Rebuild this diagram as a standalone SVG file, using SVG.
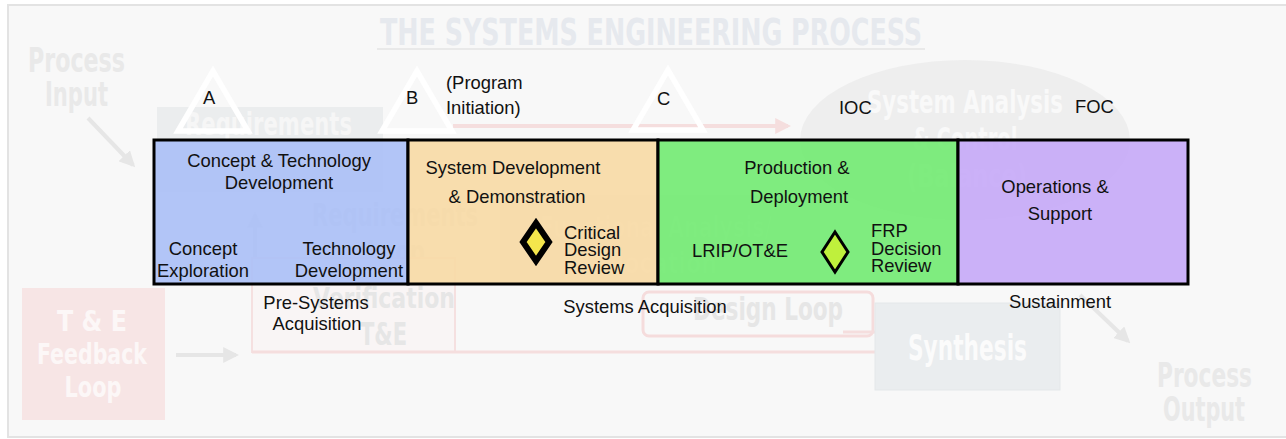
<svg xmlns="http://www.w3.org/2000/svg" width="1286" height="439" viewBox="0 0 1286 439">
<defs>
<style>
.t{font-family:"Liberation Sans",Arial,sans-serif;font-size:18.4px;fill:#111}
.c{text-anchor:middle}
.bg{font-family:"DejaVu Sans Condensed","Liberation Sans Narrow","DejaVu Sans",sans-serif;font-weight:bold;font-stretch:condensed}
.phase{stroke:#000;stroke-width:3}
.tri{fill:none;stroke:#fff;stroke-width:5.5;stroke-linejoin:miter}
</style>
<marker id="ga" viewBox="0 0 10 10" refX="8" refY="5" markerWidth="4" markerHeight="4" orient="auto"><path d="M0,0 L10,5 L0,10 z" fill="#e6e6e6"/></marker>
<marker id="ra" viewBox="0 0 10 10" refX="8" refY="5" markerWidth="4" markerHeight="4" orient="auto"><path d="M0,0 L10,5 L0,10 z" fill="#f5dede"/></marker>
</defs>

<!-- faded background picture -->
<g id="background">
<rect x="0" y="0" width="1286" height="439" fill="#ffffff"/>
<rect x="8" y="5" width="1290" height="432" fill="#f8f8f8" stroke="#e3e3e3" stroke-width="2"/>
<text class="bg c" x="651" y="45" font-size="37" fill="#e6e9ee" textLength="542" lengthAdjust="spacingAndGlyphs">THE SYSTEMS ENGINEERING PROCESS</text>
<line x1="377" y1="49" x2="925" y2="49" stroke="#e9e9e9" stroke-width="2"/>
<text class="bg" x="28" y="72" font-size="33" fill="#e9e9e9" textLength="97" lengthAdjust="spacingAndGlyphs">Process</text>
<text class="bg" x="45" y="106" font-size="33" fill="#e9e9e9" textLength="63" lengthAdjust="spacingAndGlyphs">Input</text>
<line x1="88" y1="118" x2="133" y2="165" stroke="#e6e6e6" stroke-width="4" marker-end="url(#ga)"/>
<rect x="157" y="107" width="226" height="85" fill="#ebedee"/>
<text class="bg" x="185" y="135" font-size="32" fill="#f6f6f6" textLength="167" lengthAdjust="spacingAndGlyphs">Requirements</text>
<ellipse cx="965" cy="140" rx="165" ry="80" fill="#eeeeee"/>
<text class="bg c" x="965" y="113" font-size="32" fill="#f9f9f9" textLength="196" lengthAdjust="spacingAndGlyphs">System Analysis</text>
<text class="bg c" x="965" y="150" font-size="32" fill="#f9f9f9" textLength="105" lengthAdjust="spacingAndGlyphs">&amp; Control</text>
<text class="bg c" x="967" y="187" font-size="32" fill="#f9f9f9" textLength="120" lengthAdjust="spacingAndGlyphs">(Balance)</text>
<line x1="453" y1="126" x2="788" y2="126" stroke="#f5dede" stroke-width="4" marker-end="url(#ra)"/>
<rect x="500" y="195" width="320" height="90" fill="#efebe8"/>
<text class="bg" x="540" y="237" font-size="28" fill="#f4f4f4" textLength="232" lengthAdjust="spacingAndGlyphs">Functional Analysis/</text>
<text class="bg" x="592" y="273" font-size="28" fill="#f4f4f4" textLength="125" lengthAdjust="spacingAndGlyphs">Allocation</text>
<text class="bg" x="312" y="226" font-size="32" fill="#e2e2e2" textLength="166" lengthAdjust="spacingAndGlyphs">Requirements</text>
<text class="bg" x="367" y="263" font-size="32" fill="#e2e2e2" textLength="58" lengthAdjust="spacingAndGlyphs">Loop</text>
<line x1="255" y1="284" x2="255" y2="215" stroke="#e4e4e4" stroke-width="4" marker-end="url(#ga)"/>
<rect x="252" y="258" width="203" height="94" fill="#f9f5f5" stroke="#f5e0e0" stroke-width="2"/>
<text class="bg" x="313" y="308" font-size="28" fill="#e6e6e6" textLength="142" lengthAdjust="spacingAndGlyphs">Verification</text>
<text class="bg" x="360" y="345" font-size="32" fill="#e6e6e6" textLength="47" lengthAdjust="spacingAndGlyphs">T&amp;E</text>
<rect x="643" y="292" width="230" height="44" rx="6" fill="none" stroke="#f5dcdc" stroke-width="3"/>
<text class="bg" x="693" y="320" font-size="32" fill="#e6e6e6" textLength="150" lengthAdjust="spacingAndGlyphs">Design Loop</text>
<line x1="252" y1="352" x2="875" y2="352" stroke="#f5dede" stroke-width="3"/>
<line x1="843" y1="332" x2="875" y2="332" stroke="#f5dede" stroke-width="3"/>
<rect x="875" y="303" width="185" height="87" fill="#eaedef" stroke="#e4e7e9"/>
<text class="bg" x="908" y="360" font-size="36" fill="#fbfbfb" textLength="119" lengthAdjust="spacingAndGlyphs">Synthesis</text>
<line x1="1080" y1="295" x2="1128" y2="341" stroke="#e6e6e6" stroke-width="4" marker-end="url(#ga)"/>
<text class="bg" x="1157" y="387" font-size="33" fill="#e9e9e9" textLength="95" lengthAdjust="spacingAndGlyphs">Process</text>
<text class="bg" x="1163" y="421" font-size="33" fill="#e9e9e9" textLength="82" lengthAdjust="spacingAndGlyphs">Output</text>
<rect x="22" y="288" width="143" height="132" fill="#f7e5e5"/>
<text class="bg c" x="92" y="331" font-size="29" fill="#fcf7f7" textLength="70" lengthAdjust="spacingAndGlyphs">T &amp; E</text>
<text class="bg c" x="92" y="364" font-size="29" fill="#fcf7f7" textLength="110" lengthAdjust="spacingAndGlyphs">Feedback</text>
<text class="bg c" x="93" y="397" font-size="29" fill="#fcf7f7" textLength="57" lengthAdjust="spacingAndGlyphs">Loop</text>
<line x1="176" y1="355" x2="236" y2="355" stroke="#e6e6e6" stroke-width="4" marker-end="url(#ga)"/>
</g>

<!-- milestones -->
<g id="milestone-A">
<polygon class="tri" points="213,71 178,131 248,131"/>
<text class="t" x="203" y="104">A</text>
</g>
<g id="milestone-B">
<polygon class="tri" points="417,71 382,131 452,131"/>
<text class="t" x="406" y="104">B</text>
<text class="t" x="446" y="89">(Program</text>
<text class="t" x="446" y="114">Initiation)</text>
</g>
<g id="milestone-C">
<polygon class="tri" points="668,70 633,130 703,130"/>
<text class="t" x="657" y="105">C</text>
</g>
<g id="ioc"><text class="t" x="839" y="114">IOC</text></g>
<g id="foc"><text class="t" x="1075" y="113">FOC</text></g>

<!-- phases -->
<g id="phase-concept">
<rect class="phase" x="154" y="140" width="254" height="144" fill="#abc0f6" fill-opacity="0.92"/>
<text class="t c" x="279" y="167">Concept &amp; Technology</text>
<text class="t c" x="279" y="189">Development</text>
<text class="t c" x="203" y="255">Concept</text>
<text class="t c" x="203" y="277">Exploration</text>
<text class="t c" x="349" y="255">Technology</text>
<text class="t c" x="349" y="277">Development</text>
</g>
<g id="phase-sdd">
<rect class="phase" x="408" y="140" width="250" height="144" fill="#f7daa6" fill-opacity="0.92"/>
<text class="t c" x="513" y="174">System Development</text>
<text class="t c" x="517" y="203">&amp; Demonstration</text>
</g>
<g id="phase-production">
<rect class="phase" x="658" y="140" width="300" height="144" fill="#74ea74" fill-opacity="0.92"/>
<text class="t c" x="797" y="174">Production &amp;</text>
<text class="t c" x="799" y="203">Deployment</text>
<text class="t c" x="740" y="257">LRIP/OT&amp;E</text>
</g>
<g id="phase-operations">
<rect class="phase" x="958" y="140" width="230" height="144" fill="#c7aaf7" fill-opacity="0.92"/>
<text class="t c" x="1055" y="193">Operations &amp;</text>
<text class="t c" x="1060" y="220">Support</text>
</g>

<!-- reviews -->
<g id="cdr">
<polygon points="536,223 549,242 536,261 523,242" fill="#f4e64c" stroke="#000" stroke-width="6"/>
<text class="t" x="564" y="239">Critical</text>
<text class="t" x="564" y="256">Design</text>
<text class="t" x="564" y="274">Review</text>
</g>
<g id="frp">
<polygon points="835,232 848,252 835,272 822,252" fill="#bff03c" stroke="#000" stroke-width="3"/>
<text class="t" x="871" y="237">FRP</text>
<text class="t" x="871" y="255">Decision</text>
<text class="t" x="871" y="272">Review</text>
</g>

<!-- acquisition labels -->
<g id="pre-systems">
<text class="t c" x="316" y="309">Pre-Systems</text>
<text class="t c" x="317" y="330">Acquisition</text>
</g>
<g id="systems-acq"><text class="t c" x="645" y="313">Systems Acquisition</text></g>
<g id="sustainment"><text class="t c" x="1060" y="308">Sustainment</text></g>

<g id="connectors"></g>
</svg>
